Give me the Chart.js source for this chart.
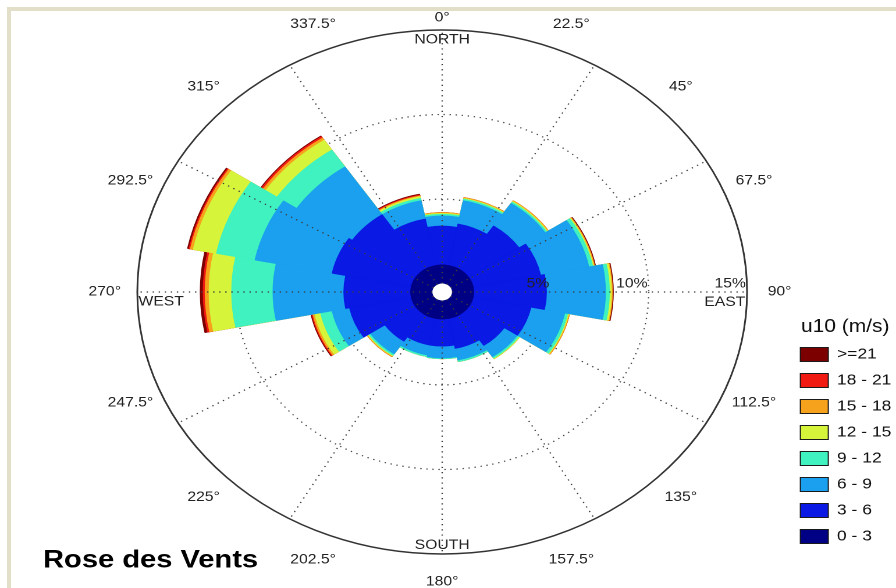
<!DOCTYPE html>
<html>
<head>
<meta charset="utf-8">
<title>Rose des Vents</title>
<script src="https://cdn.jsdelivr.net/npm/chart.js@4.4.1/dist/chart.umd.min.js"></script>
<style>
  html, body { margin: 0; padding: 0; background: #fff; width: 896px; height: 588px; overflow: hidden; }
  #frame { position: absolute; left: 7px; top: 7px; width: 900px; height: 600px;
           border-top: 4px solid #e3dec7; border-left: 4px solid #e3dec7; box-sizing: border-box; }
  /* the rose is drawn on a 770px-wide canvas and widened to the full page width */
  #wrap { position: absolute; left: 0; top: 0; width: 770px; height: 588px;
          transform: scaleX(1.163636); transform-origin: 0 0; }
  #rose { display: block; width: 770px; height: 588px; }
</style>
</head>
<body>
<div id="frame"></div>
<div id="wrap"><canvas id="rose" width="770" height="588"></canvas></div>
<script>
// 16 compass sectors, clockwise from north
const DIRECTIONS = ['N', 'NNE', 'NE', 'ENE', 'E', 'ESE', 'SE', 'SSE',
                    'S', 'SSW', 'SW', 'WSW', 'W', 'WNW', 'NW', 'NNW'];
const ANGLE_LABELS = ['0°', '22.5°', '45°', '67.5°', '90°', '112.5°', '135°', '157.5°',
                      '180°', '202.5°', '225°', '247.5°', '270°', '292.5°', '315°', '337.5°'];
const COMPASS_LABELS = ['NORTH', 'EAST', 'SOUTH', 'WEST'];

// wind speed classes (u10, m/s)
const SPEED_BINS = ['0 - 3', '3 - 6', '6 - 9', '9 - 12', '12 - 15', '15 - 18', '18 - 21', '>=21'];
const BIN_COLORS = ['#000084', '#0a1ae4', '#1aa0ee', '#3ff2c0', '#d6f53a', '#f7a21c', '#f01a12', '#7c0000'];

// frequency (%) of each speed class per direction
const FREQ_0_3   = [1.10, 1.10, 1.10, 1.10, 1.10, 1.10, 1.10, 1.10, 1.10, 1.10, 1.10, 1.10, 1.10, 1.10, 1.10, 1.10];
const FREQ_3_6   = [2.30, 2.50, 3.10, 3.50, 3.70, 3.00, 2.20, 1.80, 1.60, 1.60, 1.90, 3.20, 3.40, 4.10, 3.90, 2.80];
const FREQ_6_9   = [0.60, 1.40, 1.60, 2.50, 3.00, 1.75, 0.80, 0.70, 0.70, 0.60, 0.90, 0.90, 3.60, 4.00, 3.40, 1.10];
const FREQ_9_12  = [0.10, 0.10, 0.10, 0.20, 0.20, 0.15, 0.10, 0.10, 0.05, 0.10, 0.10, 0.60, 2.10, 2.00, 1.20, 0.15];
const FREQ_12_15 = [0.05, 0.05, 0.05, 0.05, 0.10, 0.05, 0.05, 0.00, 0.00, 0.00, 0.05, 0.30, 1.15, 1.20, 0.70, 0.10];
const FREQ_15_18 = [0.05, 0.05, 0.05, 0.05, 0.05, 0.05, 0.00, 0.00, 0.00, 0.00, 0.05, 0.10, 0.20, 0.15, 0.15, 0.05];
const FREQ_18_21 = [0.00, 0.00, 0.00, 0.00, 0.00, 0.00, 0.00, 0.00, 0.00, 0.00, 0.00, 0.05, 0.10, 0.07, 0.10, 0.05];
const FREQ_21_UP = [0.00, 0.00, 0.00, 0.05, 0.05, 0.00, 0.00, 0.00, 0.00, 0.00, 0.00, 0.05, 0.15, 0.08, 0.05, 0.05];

// radial axis (%)
const PCT_TICKS = [0, 5, 10, 15];
const PCT_MIN = -0.5;   // leaves the small empty calm circle in the middle
const PCT_MAX = 15;
const SPOKE_STEP = 30;  // dotted spokes every 30 degrees

const FONT = '"Liberation Sans", Arial, Helvetica, sans-serif';
Chart.defaults.font.family = FONT;

// stack the classes: each ring reaches the cumulative frequency of its class
const bins = [FREQ_0_3, FREQ_3_6, FREQ_6_9, FREQ_9_12, FREQ_12_15, FREQ_15_18, FREQ_18_21, FREQ_21_UP];
const cumulative = [];
let running = DIRECTIONS.map(() => 0);
bins.forEach(b => {
  running = running.map((v, i) => +(v + b[i]).toFixed(3));
  cumulative.push(running.slice());
});

// calm hole, dotted spokes and all axis texts of the rose
const roseAnnotations = {
  id: 'roseAnnotations',
  afterDatasetsDraw(chart) {
    const s = chart.scales.r, ctx = chart.ctx;
    ctx.save();
    ctx.fillStyle = '#ffffff';
    ctx.beginPath();
    ctx.arc(s.xCenter, s.yCenter, s.getDistanceFromCenterForValue(0), 0, Math.PI * 2);
    ctx.fill();
    ctx.restore();
  },
  afterDraw(chart) {
    const s = chart.scales.r, ctx = chart.ctx;
    const cx = s.xCenter, cy = s.yCenter, R = s.drawingArea;
    const r0 = s.getDistanceFromCenterForValue(0);
    const pt = (deg, r) => {
      const t = deg * Math.PI / 180;
      return [cx + r * Math.sin(t), cy - r * Math.cos(t)];
    };
    ctx.save();
    ctx.strokeStyle = '#3c3c3c';
    ctx.lineWidth = 1.2;
    ctx.setLineDash([1.2, 4]);
    for (let a = 0; a < 360; a += SPOKE_STEP) {
      const [x0, y0] = pt(a, r0), [x1, y1] = pt(a, R);
      ctx.beginPath(); ctx.moveTo(x0, y0); ctx.lineTo(x1, y1); ctx.stroke();
    }
    ctx.setLineDash([]);

    ctx.fillStyle = '#222';
    ctx.font = '13.5px ' + FONT;
    ctx.textBaseline = 'middle';

    // direction angles around the rim
    ctx.textAlign = 'center';
    ANGLE_LABELS.forEach((txt, i) => {
      const a = i * 360 / ANGLE_LABELS.length;
      const [x, y] = pt(a, R + (a === 0 ? 12 : 28));
      ctx.fillText(txt, x, y);
    });

    // percentage rings, read along the east axis
    ctx.textAlign = 'right';
    PCT_TICKS.filter(v => v > 0).forEach(v => {
      ctx.fillText(v + '%', cx + s.getDistanceFromCenterForValue(v) - 1, cy - 8);
    });

    // cardinal names just inside the outer ring
    ctx.textAlign = 'center';
    ctx.fillText(COMPASS_LABELS[0], cx, cy - R + 10);
    ctx.fillText(COMPASS_LABELS[2], cx, cy + R - 8.5);
    ctx.textAlign = 'right';
    ctx.fillText(COMPASS_LABELS[1], cx + R - 1.5, cy + 10.5);
    ctx.textAlign = 'left';
    ctx.fillText(COMPASS_LABELS[3], cx - R + 1, cy + 10);
    ctx.restore();
  }
};

new Chart(document.getElementById('rose'), {
  type: 'polarArea',
  data: {
    labels: DIRECTIONS,
    datasets: SPEED_BINS.map((label, k) => ({
      label,
      data: cumulative[k],
      backgroundColor: BIN_COLORS[k],
      borderColor: BIN_COLORS[k],
      borderWidth: 0.8
    }))
  },
  options: {
    responsive: false,
    devicePixelRatio: 2,
    animation: false,
    layout: { autoPadding: false, padding: { left: 37, right: -6, top: 30, bottom: 16 } },
    scales: {
      r: {
        min: PCT_MIN,
        max: PCT_MAX,
        startAngle: -11.25,
        z: 1,
        afterBuildTicks: (scale) => { scale.ticks = PCT_TICKS.map(v => ({ value: v })); },
        ticks: { display: false },
        angleLines: { display: false },
        pointLabels: { display: false },
        grid: {
          circular: true,
          color: (c) => c.tick && c.tick.value === PCT_MAX ? '#333' : '#4a4a4a',
          lineWidth: (c) => !c.tick || c.tick.value === 0 ? 0 : (c.tick.value === PCT_MAX ? 1.5 : 1.2)
        },
        border: {
          dash: (c) => c.tick && c.tick.value === PCT_MAX ? [] : [1.2, 4]
        }
      }
    },
    plugins: {
      tooltip: { enabled: false },
      title: {
        display: true,
        text: 'Rose des Vents',
        position: 'bottom',
        align: 'start',
        color: '#000',
        font: { family: FONT, size: 25, weight: 'bold', lineHeight: 0.6 },
        padding: { top: -2, bottom: 4 }
      },
      // blank gutter on the left, so the title starts further left than the rose
      subtitle: {
        display: true,
        text: '',
        position: 'left',
        font: { size: 10, lineHeight: 1 },
        padding: { top: 0, bottom: 37 }
      },
      legend: {
        position: 'right',
        align: 'end',
        fullSize: false,
        reverse: true,
        title: {
          display: true,
          text: 'u10 (m/s)',
          color: '#111',
          font: { family: FONT, size: 18, lineHeight: 1 },
          padding: 0
        },
        labels: {
          boxWidth: 24,
          boxHeight: 14,
          padding: 11,
          color: '#111',
          font: { family: FONT, size: 15 },
          generateLabels: (chart) => chart.data.datasets.map((ds, i) => ({
            text: ds.label,
            fillStyle: ds.backgroundColor,
            strokeStyle: '#1a1a1a',
            lineWidth: 1,
            hidden: false,
            datasetIndex: i
          }))
        }
      }
    }
  },
  plugins: [roseAnnotations]
});
</script>
</body>
</html>
